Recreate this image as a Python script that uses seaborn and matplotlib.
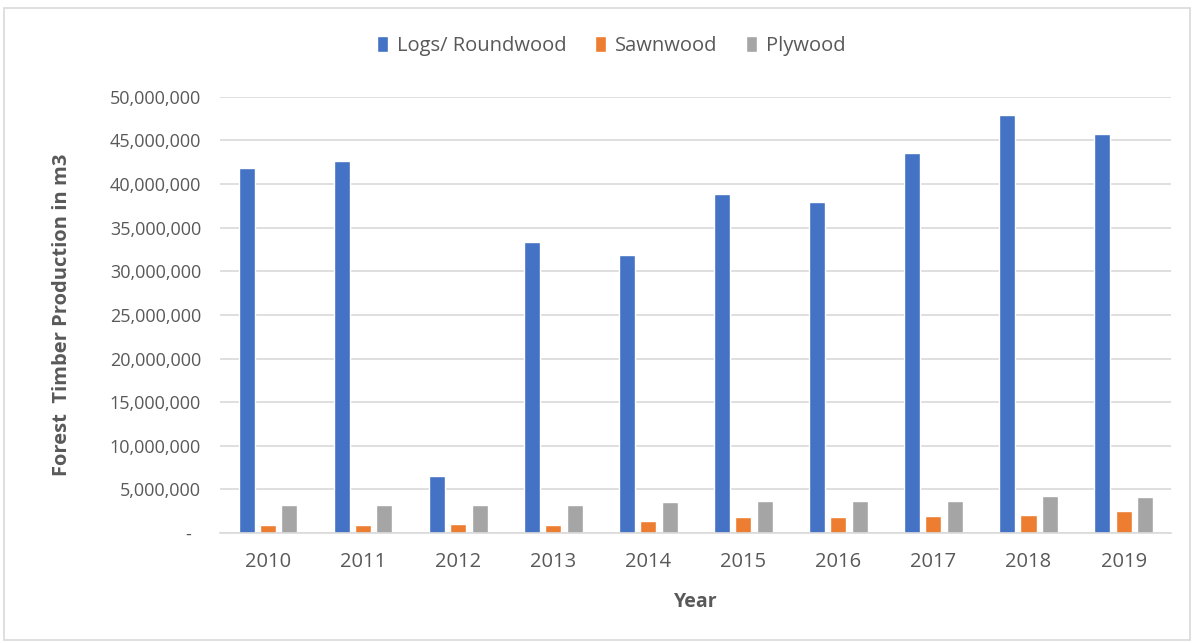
import matplotlib
matplotlib.use("Agg")
import matplotlib.pyplot as plt
import seaborn as sns
import pandas as pd
from matplotlib.ticker import FuncFormatter, MultipleLocator
from matplotlib.patches import Rectangle

years = ["2010", "2011", "2012", "2013", "2014", "2015", "2016", "2017", "2018", "2019"]
logs = [41860000, 42600000, 6580000, 33400000, 31900000, 38800000, 37960000, 43600000, 47900000, 45760000]
sawnwood = [960000, 960000, 1080000, 960000, 1420000, 1840000, 1840000, 2000000, 2110000, 2570000]
plywood = [3260000, 3260000, 3260000, 3260000, 3600000, 3720000, 3720000, 3720000, 4290000, 4130000]
series_names = ["Logs/ Roundwood", "Sawnwood", "Plywood"]
colors = ["#4472C4", "#ED7D31", "#A5A5A5"]

df = pd.DataFrame({
    "Year": years * 3,
    "Value": logs + sawnwood + plywood,
    "Type": [series_names[0]] * 10 + [series_names[1]] * 10 + [series_names[2]] * 10,
})

sns.set_style("white")
plt.rcParams["font.family"] = ["Open Sans", "DejaVu Sans"]

fig = plt.figure(figsize=(11.95, 6.43), dpi=100)
ax = fig.add_axes([0.1845, 0.171, 0.7955, 0.6786])

sns.barplot(data=df, x="Year", y="Value", hue="Type", palette=colors,
            width=0.675, gap=0.25, ax=ax, saturation=1, legend=True)

ax.set_ylim(0, 50000000)
ax.yaxis.set_major_locator(MultipleLocator(5000000))

def fmt(v, pos):
    if abs(v) < 1:
        return "-  "
    return f"{int(round(v)):,}"

ax.yaxis.set_major_formatter(FuncFormatter(fmt))
ax.grid(axis="y", color="#D9D9D9", linewidth=1.2)
ax.set_axisbelow(True)
for s in ["top", "right", "left"]:
    ax.spines[s].set_visible(False)
ax.spines["bottom"].set_color("#D9D9D9")
ax.spines["bottom"].set_linewidth(1.2)
ax.tick_params(axis="both", length=0, labelcolor="#595959")
ax.tick_params(axis="y", pad=14, labelsize=13)
ax.tick_params(axis="x", pad=14, labelsize=14.5)

ax.set_xlabel("Year", fontsize=14, fontweight="bold", color="#595959", labelpad=14)
ax.set_ylabel("Forest  Timber Production in m3", fontsize=14.5, fontweight="bold",
              color="#595959", labelpad=27)

handles, labels = ax.get_legend_handles_labels()
leg = ax.legend(handles, labels, loc="center", bbox_to_anchor=(611 / 1195, 1 - 46 / 643),
                bbox_transform=fig.transFigure, ncol=3, frameon=False,
                fontsize=14.5, handlelength=0.55, handleheight=0.8, columnspacing=1.4,
                handletextpad=0.45)
for t in leg.get_texts():
    t.set_color("#595959")

fig.patches.append(Rectangle((4 / 1195, 3 / 643), 1186 / 1195, 632 / 643,
                             transform=fig.transFigure, fill=False,
                             edgecolor="#D9D9D9", linewidth=1.2))

fig.savefig("out.png", dpi=100, facecolor="white")
